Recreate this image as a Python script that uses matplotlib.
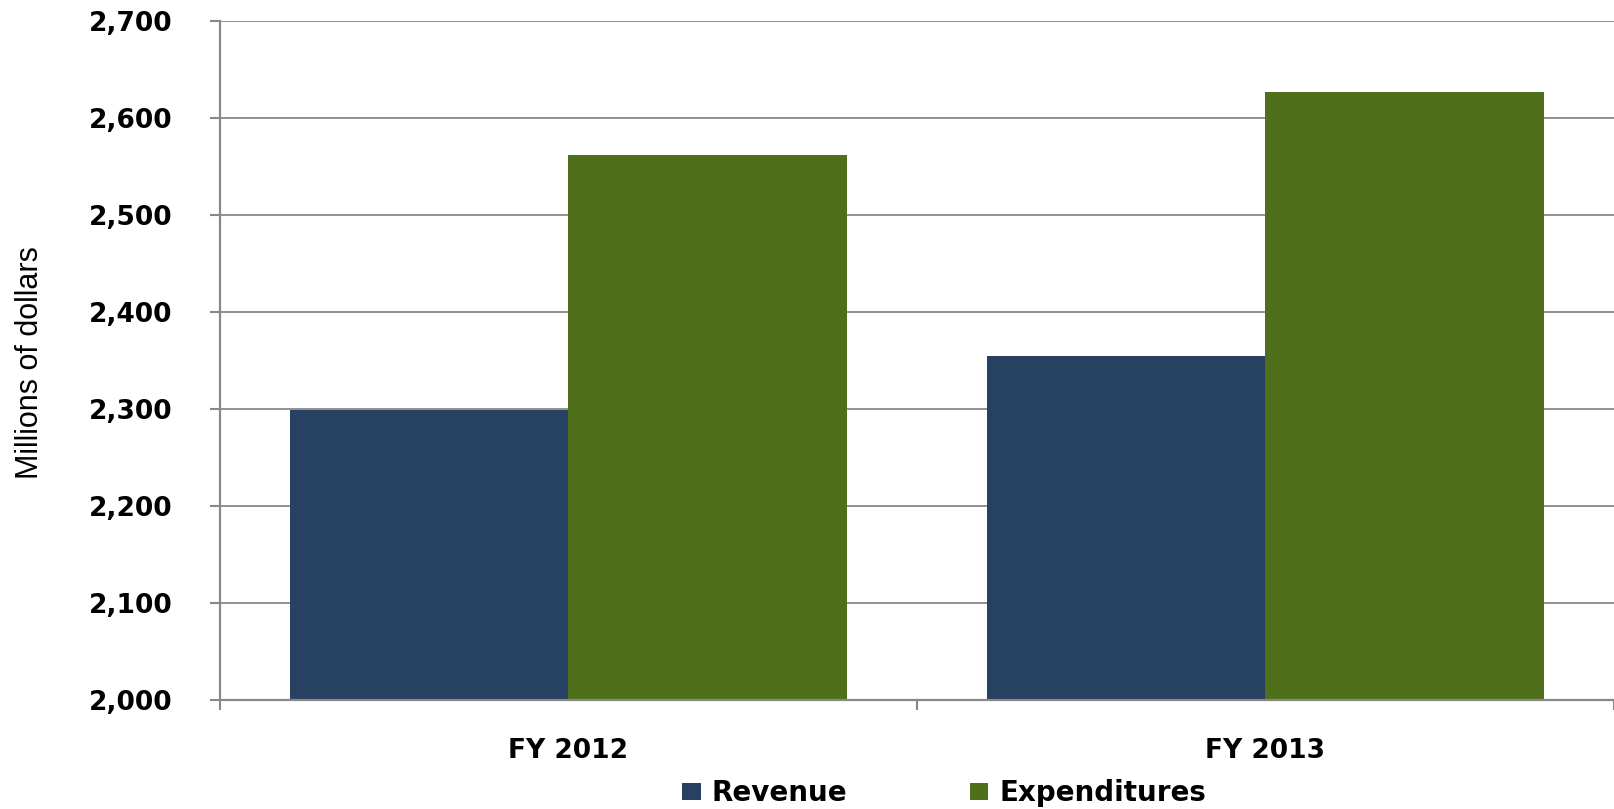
import numpy as np
import matplotlib
matplotlib.use('Agg')
import matplotlib.pyplot as plt

categories = ['FY 2012', 'FY 2013']
revenue = [2299, 2355]
expenditures = [2562, 2627]
series_names = ['Revenue', 'Expenditures']
y_ticks = [2000, 2100, 2200, 2300, 2400, 2500, 2600, 2700]

# colours
navy = '#264162'
green = '#4f6f1b'
grey = '#888888'

plt.rcParams['font.family'] = ['DejaVu Sans']
plt.rcParams['font.weight'] = 'bold'

fig = plt.figure(figsize=(16.14, 8.09), dpi=100)
ax = fig.add_axes([0.1363, 0.1347, 0.8637, 0.8397])

x = np.arange(len(categories))
w = 0.4
ax.bar(x - w / 2, revenue, w, color=navy, label=series_names[0])
ax.bar(x + w / 2, expenditures, w, color=green, label=series_names[1])

ax.set_xlim(-0.5, len(categories) - 0.5)
ax.set_ylim(y_ticks[0], y_ticks[-1])
ax.set_yticks(y_ticks)
ax.set_yticklabels([f'{v:,}' for v in y_ticks])
ax.set_xticks(x)
ax.set_xticklabels(categories)
ax.set_xticks(np.arange(-0.5, len(categories), 1.0), minor=True)

ax.set_axisbelow(True)
ax.yaxis.grid(True, color=grey, linewidth=1.3)

for s in ['top', 'right']:
    ax.spines[s].set_visible(False)
for s in ['left', 'bottom']:
    ax.spines[s].set_color(grey)
    ax.spines[s].set_linewidth(1.6)

ax.tick_params(axis='y', direction='out', length=7, width=1.5, color=grey,
               labelsize=19, pad=27)
ax.tick_params(axis='x', which='major', length=0, labelsize=19, pad=27)
ax.tick_params(axis='x', which='minor', direction='out', length=7, width=1.5,
               color=grey)

# y title sits in its own narrow font
fig.text(30.5 / 1614, 1 - 362.5 / 809, 'Millions of dollars', rotation=90,
         ha='center', va='center', fontsize=22, fontweight='normal',
         family=['Liberation Sans Narrow', 'Liberation Sans', 'DejaVu Sans'])

fig.legend(loc='center left', bbox_to_anchor=(682 / 1614, 1 - 793 / 809),
           ncol=2, frameon=False, fontsize=20, borderpad=0, borderaxespad=0,
           handlelength=0.67, handleheight=0.55, handletextpad=0.4,
           columnspacing=4.4)

fig.savefig('out.png', dpi=100)
